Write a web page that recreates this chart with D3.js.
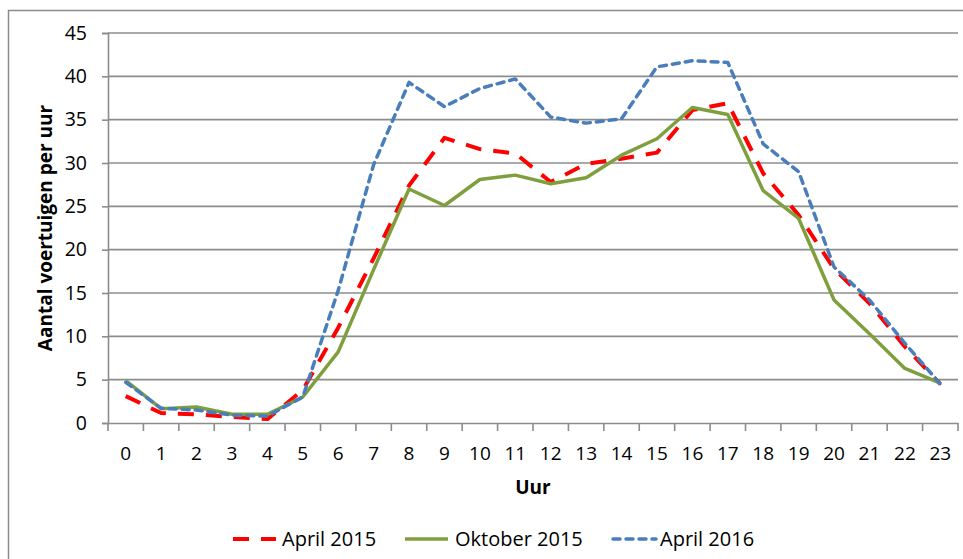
<!DOCTYPE html>
<html>
<head>
<meta charset="utf-8">
<script src="https://cdn.jsdelivr.net/npm/d3@7/dist/d3.min.js"></script>
<style>
  html, body { margin: 0; padding: 0; background: #fff; }
  svg { display: block; }
  text { font-family: "Open Sans", "Noto Sans", sans-serif; fill: #000; }
</style>
</head>
<body>
<svg id="chart" width="963" height="559"></svg>
<script>
// Uren van de dag
const hours = d3.range(0, 24);

// Gemiddeld aantal voertuigen per uur
const april2015 = [3.1, 1.15, 1.0, 0.7, 0.45, 3.8, 11.0, 19.0, 27.4, 32.9, 31.6, 31.1,
                   27.8, 29.9, 30.5, 31.2, 36.1, 36.9, 28.8, 24.0, 17.8, 13.8, 8.8, 4.5];
const oktober2015 = [4.9, 1.65, 1.85, 1.0, 1.0, 3.0, 8.2, 17.7, 27.0, 25.1, 28.1, 28.6,
                     27.6, 28.3, 30.9, 32.8, 36.4, 35.6, 26.8, 23.6, 14.2, 10.3, 6.3, 4.6];
const april2016 = [4.7, 1.7, 1.5, 0.9, 0.8, 3.0, 15.3, 29.8, 39.3, 36.5, 38.6, 39.7,
                   35.3, 34.6, 35.1, 41.1, 41.8, 41.6, 32.2, 29.0, 18.0, 14.2, 9.2, 4.5];

const yTicks = [0, 5, 10, 15, 20, 25, 30, 35, 40, 45];
const seriesNames = ["April 2015", "Oktober 2015", "April 2016"];

const series = [
  { name: seriesNames[0], values: april2015, color: "#ff0000", width: 4, dash: "16,12", cap: "butt" },
  { name: seriesNames[1], values: oktober2015, color: "#7f9f3f", width: 3.5, dash: null, cap: "butt" },
  { name: seriesNames[2], values: april2016, color: "#4a7ebb", width: 3.5, dash: "7,6", cap: "round" }
];

const svg = d3.select("#chart");
const plot = { left: 108, right: 958, top: 33, bottom: 423 };

// Kader rond de grafiek
svg.append("path")
  .attr("d", "M8.5,560 V10.5 H965")
  .attr("fill", "none")
  .attr("stroke", "#8c8c8c")
  .attr("stroke-width", 1.5);

const x = d3.scaleBand()
  .domain(hours)
  .range([plot.left, plot.right])
  .padding(0);

const y = d3.scaleLinear()
  .domain([0, 45])
  .range([plot.bottom, plot.top]);

// Horizontale rasterlijnen
svg.append("g")
  .selectAll("line")
  .data(yTicks.filter(d => d > 0))
  .join("line")
  .attr("x1", plot.left)
  .attr("x2", plot.right)
  .attr("y1", d => y(d))
  .attr("y2", d => y(d))
  .attr("stroke", "#8c8c8c")
  .attr("stroke-width", 1.6);

// Y-as
const yAxis = svg.append("g")
  .attr("transform", `translate(${plot.left},0)`)
  .call(d3.axisLeft(y).tickValues(yTicks).tickSize(6).tickPadding(15));
yAxis.select(".domain").attr("stroke", "#8c8c8c").attr("stroke-width", 1.6);
yAxis.selectAll(".tick line").attr("stroke", "#8c8c8c").attr("stroke-width", 1.6);
yAxis.selectAll(".tick text")
  .attr("font-size", 19.5)
  .attr("font-family", "'Open Sans', sans-serif")
  .attr("fill", "#000");

// X-as met streepjes tussen de categorieën
const xAxis = svg.append("g")
  .attr("transform", `translate(0,${plot.bottom})`)
  .call(d3.axisBottom(x).tickSize(0).tickPadding(24));
xAxis.select(".domain").attr("stroke", "#8c8c8c").attr("stroke-width", 1.6);
xAxis.selectAll(".tick text")
  .attr("font-size", 19)
  .attr("font-family", "'Open Sans', sans-serif")
  .attr("fill", "#000");

xAxis.append("g")
  .selectAll("line")
  .data(d3.range(0, 25))
  .join("line")
  .attr("x1", i => i < 24 ? x(i) : plot.right)
  .attr("x2", i => i < 24 ? x(i) : plot.right)
  .attr("y1", 0)
  .attr("y2", 8)
  .attr("stroke", "#8c8c8c")
  .attr("stroke-width", 1.6);

// Lijnen per meetperiode
const line = d3.line()
  .x((d, i) => x(hours[i]) + x.bandwidth() / 2)
  .y(d => y(d));

svg.append("g")
  .selectAll("path")
  .data(series)
  .join("path")
  .attr("d", s => line(s.values))
  .attr("fill", "none")
  .attr("stroke", s => s.color)
  .attr("stroke-width", s => s.width)
  .attr("stroke-dasharray", s => s.dash)
  .attr("stroke-linecap", s => s.cap)
  .attr("stroke-linejoin", "round");

// Astitels
svg.append("text")
  .attr("transform", `translate(52,${(plot.top + plot.bottom) / 2}) rotate(-90)`)
  .attr("text-anchor", "middle")
  .attr("font-size", 19)
  .attr("font-weight", "bold")
  .text("Aantal voertuigen per uur");

svg.append("text")
  .attr("x", (plot.left + plot.right) / 2)
  .attr("y", 494)
  .attr("text-anchor", "middle")
  .attr("font-size", 19)
  .attr("font-weight", "bold")
  .text("Uur");

// Legenda
const legendItems = [
  { s: series[0], x: 233, tx: 282 },
  { s: series[1], x: 405, tx: 455 },
  { s: series[2], x: 613, tx: 660 }
];
const legend = svg.append("g");
legendItems.forEach(item => {
  legend.append("line")
    .attr("x1", item.x)
    .attr("x2", item.x + 43)
    .attr("y1", 539)
    .attr("y2", 539)
    .attr("stroke", item.s.color)
    .attr("stroke-width", item.s.width)
    .attr("stroke-dasharray", item.s.dash)
    .attr("stroke-linecap", item.s.cap);
  legend.append("text")
    .attr("x", item.tx)
    .attr("y", 546)
    .attr("font-size", 20)
    .text(item.s.name);
});
</script>
</body>
</html>
